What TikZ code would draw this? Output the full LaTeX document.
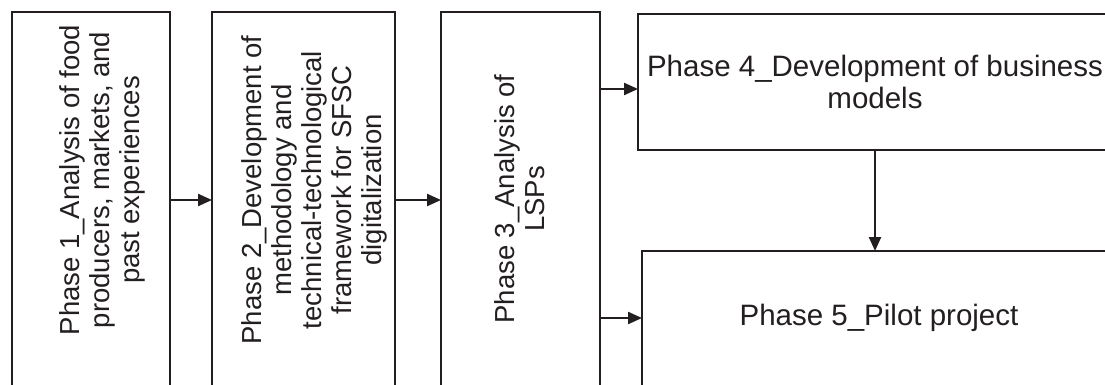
\documentclass[tikz,border=0pt]{standalone}
\usepackage{fontspec}
\setmainfont{Liberation Sans}
\usetikzlibrary{arrows.meta}
\definecolor{ink}{HTML}{231F20}
\begin{document}
\begin{tikzpicture}[x=1pt,y=1pt,
  box/.style={draw=ink, line width=2.6pt, inner sep=0pt, outer sep=0pt, anchor=north west},
  lbl/.style={font=\fontsize{29.5}{32}\selectfont, align=center, text=ink, inner sep=0pt},
  vlbl/.style={font=\fontsize{27.5}{30}\selectfont, align=center, rotate=90, text=ink, inner sep=0pt},
  conn/.style={draw=ink, line width=2.3pt, -{Triangle[length=14pt,width=12pt]}}]
\useasboundingbox (0,0) rectangle (1105,-385);
\clip (0,0) rectangle (1105,-385);
\fill[white] (0,0) rectangle (1105,-385);
% boxes
\node[box, minimum width=158pt, minimum height=400pt] (b1) at (12,-12) {};
\node[box, minimum width=183pt, minimum height=400pt] (b2) at (212,-12) {};
\node[box, minimum width=159pt, minimum height=400pt] (b3) at (441,-12) {};
\node[box, minimum width=474pt, minimum height=136pt] (b4) at (638,-14) {};
\node[box, minimum width=474pt, minimum height=140pt] (b5) at (642,-251) {};
% labels
\node[vlbl] (t1) at (102,-180) {Phase 1\_Analysis of food\\producers, markets, and\\past experiences};
\node[vlbl] (t2) at (314,-190) {Phase 2\_Development of\\methodology and\\technical-technological\\framework for SFSC\\digitalization};
\node[vlbl] (t3) at (520,-199) {Phase 3\_Analysis of\\LSPs};
\node[lbl] (t4) at (875,-82) {Phase 4\_Development of business\\models};
\node[lbl] (t5) at (879,-318) {Phase 5\_Pilot project};
% connectors
\coordinate (r1) at (0,-200);
\coordinate (r2) at (0,-89);
\coordinate (r3) at (0,-318);
\draw[conn] (b1.east |- r1) -- (b2.west |- r1);
\draw[conn] (b2.east |- r1) -- (b3.west |- r1);
\draw[conn] (b3.east |- r2) -- (b4.west |- r2);
\draw[conn] (b3.east |- r3) -- (b5.west |- r3);
\draw[conn] (b4.south) -- (b4.south |- b5.north);
\end{tikzpicture}
\end{document}
